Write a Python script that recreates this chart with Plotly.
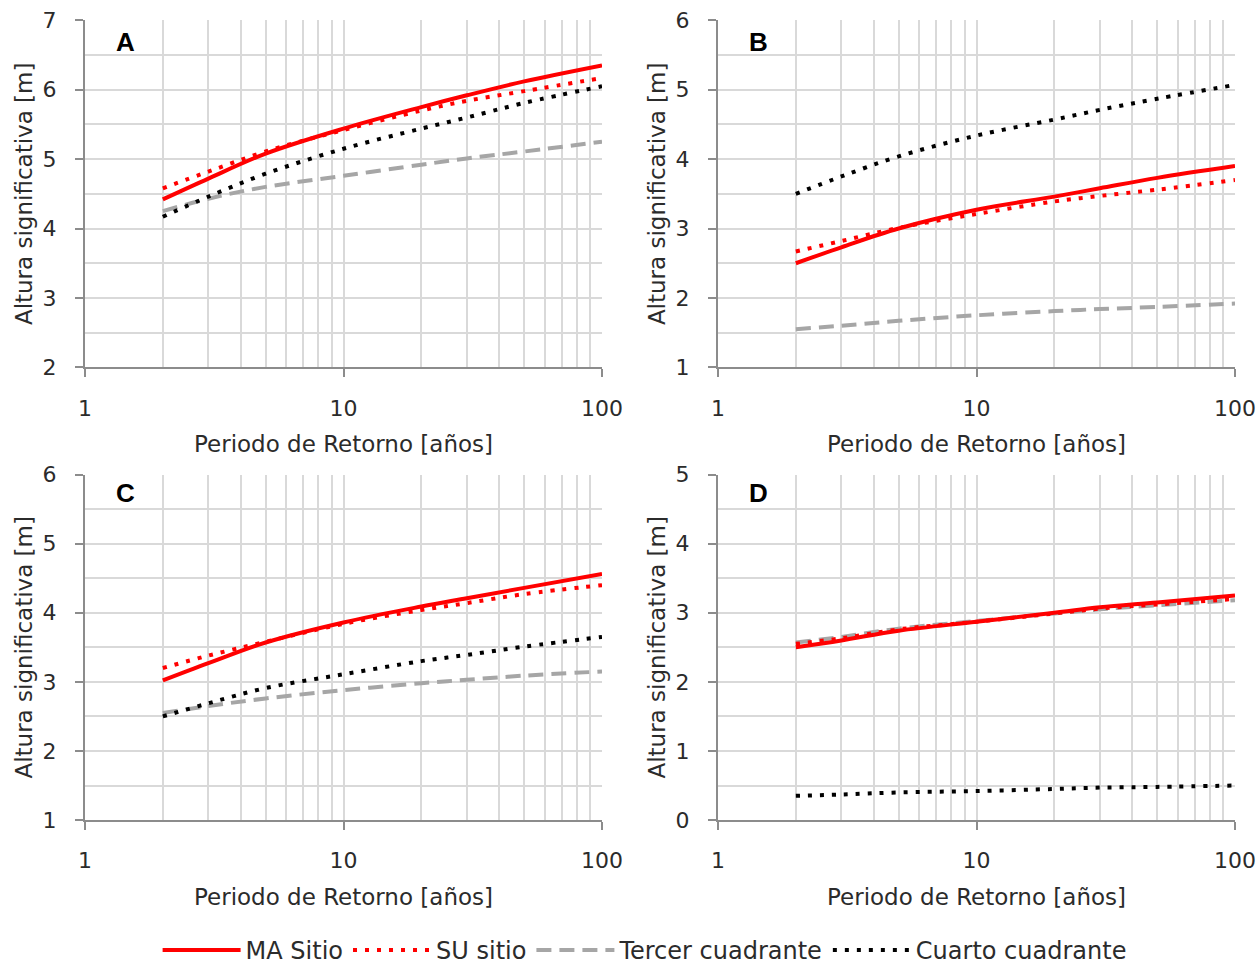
import plotly.graph_objects as go
from plotly.subplots import make_subplots

# Return periods (years)
periodo = [2, 3, 5, 10, 20, 30, 50, 100]

# Significant wave height [m] per panel and series
A_ma = [4.42, 4.72, 5.08, 5.44, 5.75, 5.92, 6.12, 6.35]
A_su = [4.58, 4.82, 5.11, 5.42, 5.70, 5.84, 5.98, 6.17]
A_tercer = [4.25, 4.43, 4.60, 4.76, 4.92, 5.01, 5.11, 5.25]
A_cuarto = [4.17, 4.46, 4.79, 5.15, 5.44, 5.60, 5.81, 6.05]

B_ma = [2.50, 2.73, 3.00, 3.27, 3.46, 3.58, 3.73, 3.90]
B_su = [2.67, 2.82, 3.01, 3.21, 3.39, 3.47, 3.56, 3.70]
B_tercer = [1.55, 1.60, 1.67, 1.75, 1.81, 1.84, 1.87, 1.92]
B_cuarto = [3.50, 3.75, 4.04, 4.34, 4.57, 4.71, 4.87, 5.07]

C_ma = [3.02, 3.27, 3.57, 3.86, 4.09, 4.21, 4.36, 4.56]
C_su = [3.20, 3.38, 3.58, 3.84, 4.04, 4.14, 4.27, 4.40]
C_tercer = [2.55, 2.65, 2.76, 2.88, 2.98, 3.03, 3.09, 3.15]
C_cuarto = [2.50, 2.69, 2.91, 3.11, 3.30, 3.39, 3.51, 3.65]

D_ma = [2.50, 2.60, 2.74, 2.87, 3.00, 3.08, 3.15, 3.25]
D_su = [2.55, 2.63, 2.76, 2.87, 2.99, 3.06, 3.12, 3.20]
D_tercer = [2.57, 2.65, 2.77, 2.88, 2.99, 3.05, 3.11, 3.18]
D_cuarto = [0.35, 0.37, 0.40, 0.42, 0.45, 0.47, 0.48, 0.50]

panel_labels = ["A", "B", "C", "D"]
y_ranges = [[2, 7], [1, 6], [1, 6], [0, 5]]
series_names = ["MA Sitio", "SU sitio", "Tercer cuadrante", "Cuarto cuadrante"]
x_ticks = [1, 10, 100]
x_minor = [2, 3, 4, 5, 6, 7, 8, 9, 20, 30, 40, 50, 60, 70, 80, 90]

panels = [
    [A_ma, A_su, A_tercer, A_cuarto],
    [B_ma, B_su, B_tercer, B_cuarto],
    [C_ma, C_su, C_tercer, C_cuarto],
    [D_ma, D_su, D_tercer, D_cuarto],
]

styles = [
    dict(color="#FF0000", width=4, dash="solid"),
    dict(color="#FF0000", width=4, dash="4px,8px"),
    dict(color="#A6A6A6", width=4, dash="15px,8px"),
    dict(color="#000000", width=4, dash="4px,8px"),
]

W, H = 1259, 973
FONT = "DejaVu Sans"
TEXT = "#2b2b2b"

fig = make_subplots(rows=2, cols=2)

# plot-area boxes in pixels: (left, right, top, bottom)
boxes = [
    (85, 602, 20.5, 370),
    (718, 1235, 20.5, 370),
    (85, 602, 478, 826),
    (718, 1235, 478, 826),
]
# panel letter positions in pixels
letter_pos = [(125, 42), (758, 42), (125, 497), (758, 497)]

for i, (series, box) in enumerate(zip(panels, boxes)):
    r, c = i // 2 + 1, i % 2 + 1
    order = [2, 3, 1, 0]  # draw solid red on top
    for k in order:
        fig.add_trace(
            go.Scatter(
                x=periodo, y=series[k], mode="lines", name=series_names[k],
                line=dict(shape="spline", smoothing=1.0, **styles[k]),
                showlegend=False,
            ),
            row=r, col=c,
        )
    l, rgt, t, b = box
    xn = "xaxis" if i == 0 else f"xaxis{i+1}"
    yn = "yaxis" if i == 0 else f"yaxis{i+1}"
    fig.layout[xn].domain = [l / W, rgt / W]
    fig.layout[yn].domain = [1 - b / H, 1 - t / H]
    fig.update_xaxes(
        type="log", range=[0, 2], tickvals=x_ticks, ticktext=[str(v) for v in x_ticks],
        showline=True, linecolor="#8C8C8C", linewidth=2,
        ticks="outside", ticklen=8, tickwidth=2, tickcolor="#8C8C8C",
        showgrid=True, gridcolor="#D9D9D9", gridwidth=1.5,
        minor=dict(tickvals=x_minor, showgrid=True, gridcolor="#D9D9D9", gridwidth=1.5, ticks=""),
        zeroline=False, ticklabelstandoff=12, automargin=False,
        tickfont=dict(family=FONT, size=22, color=TEXT),
        title=dict(text="Periodo de Retorno [años]", standoff=16,
                   font=dict(family=FONT, size=23, color=TEXT)),
        row=r, col=c,
    )
    fig.update_yaxes(
        range=y_ranges[i], dtick=1,
        showline=True, linecolor="#8C8C8C", linewidth=2,
        ticks="outside", ticklen=8, tickwidth=2, tickcolor="#8C8C8C",
        showgrid=True, gridcolor="#D9D9D9", gridwidth=1.5,
        minor=dict(dtick=0.5, showgrid=True, gridcolor="#D9D9D9", gridwidth=1.5, ticks=""),
        zeroline=False, ticklabelstandoff=14, automargin=False,
        tickfont=dict(family=FONT, size=22, color=TEXT),
        title=dict(text="Altura significativa [m]", standoff=4,
                   font=dict(family=FONT, size=23, color=TEXT)),
        row=r, col=c,
    )
    lx, ly = letter_pos[i]
    fig.add_annotation(
        text=f"<b>{panel_labels[i]}</b>", xref="paper", yref="paper",
        x=lx / W, y=1 - ly / H, xanchor="center", yanchor="middle",
        showarrow=False, font=dict(family="Liberation Sans", size=26, color="#000000"),
    )

# legend entries (dummy traces carry the shared styling)
for k in range(4):
    fig.add_trace(go.Scatter(
        x=[None], y=[None], mode="lines", name=series_names[k],
        line=styles[k], showlegend=True,
    ))

fig.update_layout(
    width=W, height=H, margin=dict(l=0, r=0, t=0, b=0),
    paper_bgcolor="white", plot_bgcolor="white",
    font=dict(family=FONT, size=22, color=TEXT),
    legend=dict(orientation="h", x=0.512, xanchor="center", y=0.016, yanchor="middle",
                itemwidth=78, font=dict(family=FONT, size=24, color=TEXT),
                bgcolor="rgba(0,0,0,0)", traceorder="normal"),
)

fig.write_html("out.html")
